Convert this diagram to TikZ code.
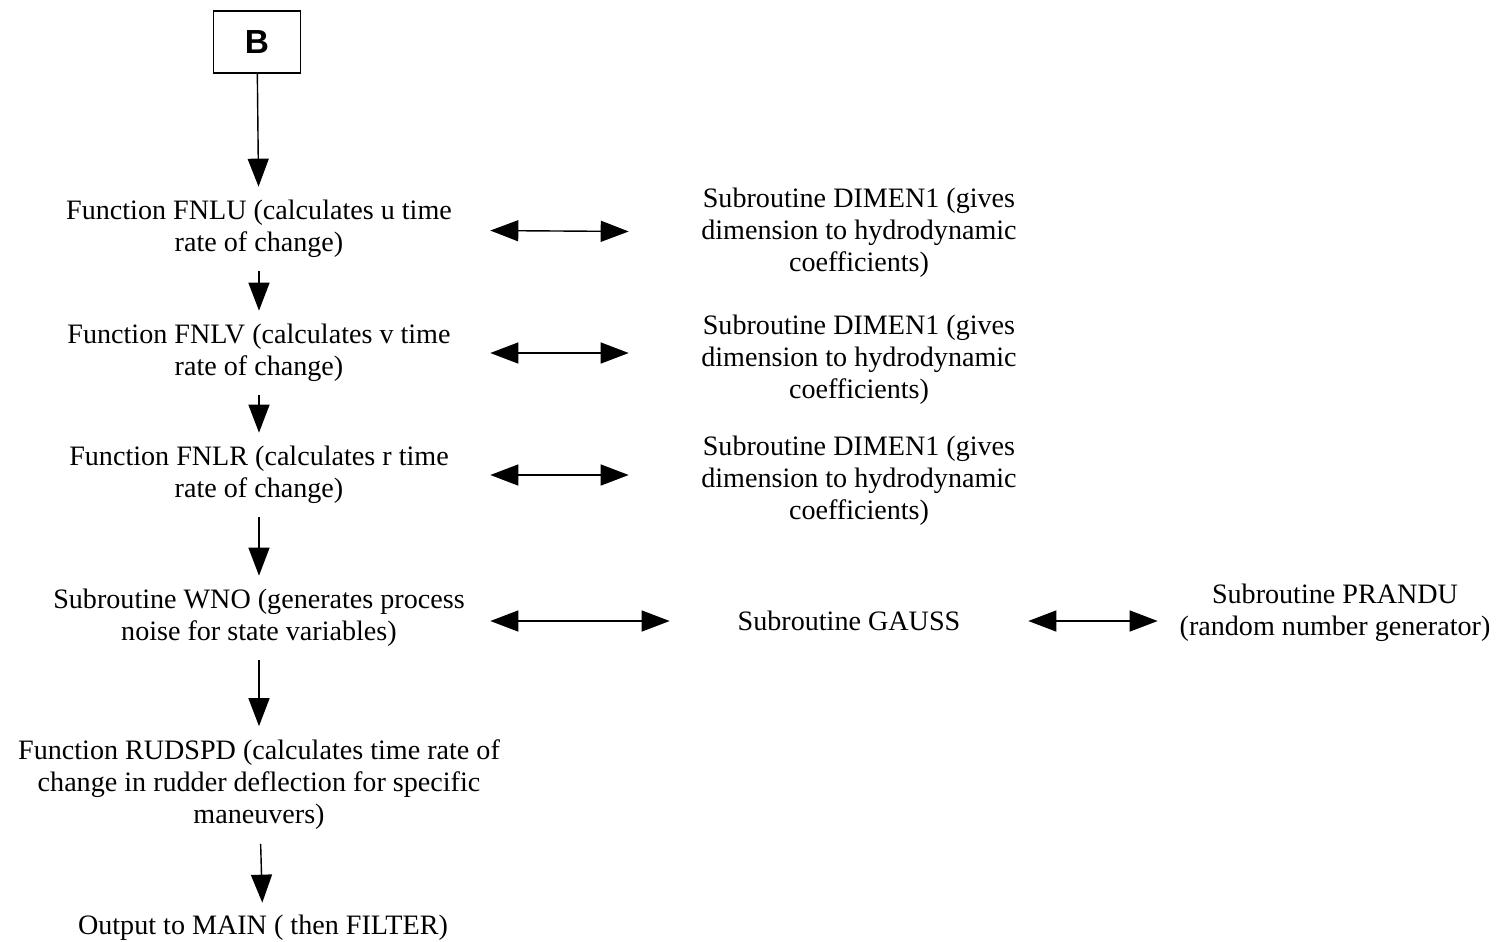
\documentclass[tikz,border=0pt]{standalone}
\usepackage{fontspec}
\setmainfont{Liberation Serif}
\setsansfont{Liberation Sans}
\usetikzlibrary{arrows.meta}

\begin{document}
\begin{tikzpicture}[x=0.02cm, y=-0.02cm,
		font=\fontsize{16}{18.2}\selectfont,
		lbox/.style={align=center, minimum width=9.24cm, minimum height=1.68cm, inner sep=0pt},
		rbox/.style={align=center, minimum width=9.2cm, inner sep=0pt},
		link/.style={-{Triangle[length=0.56cm, width=0.42cm]}, line width=0.8pt},
		dlink/.style={{Triangle[length=0.56cm, width=0.42cm]}-{Triangle[length=0.56cm, width=0.42cm]}, line width=0.8pt}]
		\useasboundingbox (0,0) rectangle (1499,941);
		
		% left column
		\node [draw, line width=0.8pt, minimum width=1.74cm, minimum height=1.24cm, font=\sffamily\bfseries\fontsize{19}{22}\selectfont] (b) at (257,42) {B};
		\node [lbox] (fnlu) at (259,229) {Function FNLU (calculates u time\\rate of change)};
		\node [lbox] (fnlv) at (259,353) {Function FNLV (calculates v time\\rate of change)};
		\node [lbox] (fnlr) at (259,475) {Function FNLR (calculates r time\\rate of change)};
		\node [lbox] (wno) at (259,618) {Subroutine WNO (generates process\\noise for state variables)};
		\node [lbox, minimum height=2.34cm] (rudspd) at (259,785) {Function RUDSPD (calculates time rate of\\change in rudder deflection for specific\\maneuvers)};
		\node [lbox, minimum height=1cm] (out) at (263,928) {Output to MAIN ( then FILTER)};
		
		% right side
		\node [rbox] (dimu) at (859,233) {Subroutine DIMEN1 (gives\\dimension to hydrodynamic\\coefficients)};
		\node [rbox] (dimv) at (859,360) {Subroutine DIMEN1 (gives\\dimension to hydrodynamic\\coefficients)};
		\node [rbox] (dimr) at (859,481) {Subroutine DIMEN1 (gives\\dimension to hydrodynamic\\coefficients)};
		\node [rbox, minimum width=7.16cm] (gauss) at (849,621) {Subroutine GAUSS};
		\node [rbox, minimum width=7.08cm] (prandu) at (1335,613) {Subroutine PRANDU\\(random number generator)};
		
		\draw [link] (b) -- (fnlu);
		\draw [link] (fnlu) -- (fnlv);
		\draw [link] (fnlv) -- (fnlr);
		\draw [link] (fnlr) -- (wno);
		\draw [link] (wno) -- (rudspd);
		\draw [link] (rudspd) -- (out);
		
		\draw [dlink] (fnlu) -- (dimu);
		\draw [dlink] (fnlv) -- (fnlv -| dimv.west);
		\draw [dlink] (fnlr) -- (fnlr -| dimr.west);
		\draw [dlink] (gauss -| wno.east) -- (gauss);
		\draw [dlink] (gauss) -- (gauss -| prandu.west);
	\end{tikzpicture}
\end{document}
